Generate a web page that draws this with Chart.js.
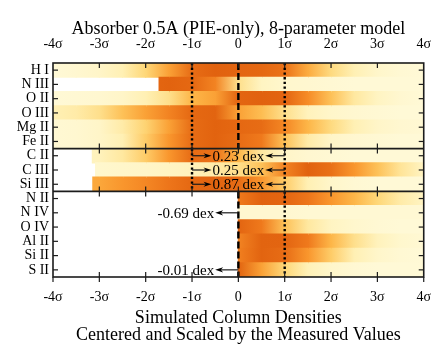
<!DOCTYPE html>
<html>
<head>
<meta charset="utf-8">
<script src="https://cdn.jsdelivr.net/npm/chart.js@4.4.0/dist/chart.umd.min.js"></script>
<style>
  html, body { margin: 0; padding: 0; background: #fff; }
</style>
</head>
<body>
<canvas id="heat" width="443" height="354"></canvas>
<script>
// ions, top to bottom
const ions = ['H I', 'N III', 'O II', 'O III', 'Mg II', 'Fe II',
              'C II', 'C III', 'Si III',
              'N II', 'N IV', 'O IV', 'Al II', 'Si II', 'S II'];

// sample points along x (in sigma)
const sigmaGrid = [-4, -3.5, -3, -2.5, -2, -1.5, -1, -0.5, 0, 0.5, 1, 1.5, 2, 2.5, 3, 3.5, 4];

// where each row's simulated distribution begins (white to the left)
const bandStart = [-4, -1.71, -4, -4, -4, -4, -3.15, -3.08, -3.14, 0, 0, 0, 0, 0, 0];

// relative density per row (0 = pale, 1 = darkest)
const densHI   = [0.03, 0.05, 0.08, 0.15, 0.30, 0.55, 0.85, 0.95, 0.90, 0.88, 0.80, 0.50, 0.28, 0.15, 0.07, 0.04, 0.03];
const densNIII = [null, null, null, null, 0.88, 0.93, 0.88, 0.70, 0.25, 0.10, 0.06, 0.05, 0.04, 0.03, 0.03, 0.03, 0.03];
const densOII  = [0.03, 0.04, 0.05, 0.08, 0.15, 0.25, 0.45, 0.55, 0.90, 0.95, 0.90, 0.65, 0.40, 0.20, 0.10, 0.05, 0.03];
const densOIII = [0.15, 0.18, 0.25, 0.40, 0.55, 0.70, 0.88, 0.92, 0.55, 0.42, 0.25, 0.12, 0.07, 0.05, 0.04, 0.03, 0.03];
const densMgII = [0.04, 0.05, 0.08, 0.18, 0.32, 0.55, 0.85, 0.93, 0.88, 0.85, 0.68, 0.45, 0.28, 0.15, 0.08, 0.05, 0.04];
const densFeII = [0.04, 0.05, 0.08, 0.15, 0.35, 0.60, 0.85, 0.93, 0.85, 0.75, 0.40, 0.18, 0.08, 0.05, 0.04, 0.03, 0.03];
const densCII  = [null, 0.10, 0.12, 0.20, 0.35, 0.60, 0.85, 0.80, 0.45, 0.20, 0.08, 0.05, 0.04, 0.03, 0.03, 0.03, 0.03];
const densCIII = [null, 0.06, 0.06, 0.07, 0.08, 0.10, 0.12, 0.18, 0.25, 0.40, 0.70, 0.95, 0.82, 0.60, 0.40, 0.22, 0.10];
const densSiIII= [null, 0.50, 0.52, 0.60, 0.68, 0.78, 0.88, 0.92, 0.85, 0.60, 0.35, 0.15, 0.07, 0.04, 0.03, 0.03, 0.03];
const densNII  = [null, null, null, null, null, null, null, null, 0.75, 0.95, 0.90, 0.78, 0.60, 0.45, 0.30, 0.18, 0.10];
const densNIV  = [null, null, null, null, null, null, null, null, 0.05, 0.05, 0.05, 0.04, 0.04, 0.04, 0.04, 0.04, 0.04];
const densOIV  = [null, null, null, null, null, null, null, null, 0.90, 0.75, 0.40, 0.20, 0.10, 0.06, 0.04, 0.03, 0.03];
const densAlII = [null, null, null, null, null, null, null, null, 0.70, 0.92, 0.90, 0.75, 0.45, 0.25, 0.12, 0.06, 0.04];
const densSiII = [null, null, null, null, null, null, null, null, 0.72, 0.92, 0.85, 0.60, 0.35, 0.15, 0.07, 0.04, 0.03];
const densSII  = [null, null, null, null, null, null, null, null, 0.92, 0.55, 0.30, 0.14, 0.07, 0.04, 0.03, 0.03, 0.03];
const density = [densHI, densNIII, densOII, densOIII, densMgII, densFeII,
                 densCII, densCIII, densSiIII,
                 densNII, densNIV, densOIV, densAlII, densSiII, densSII];

// panels (first row, last row) and their reference lines
const panels = [[0, 5], [6, 8], [9, 14]];
const dashedAt = [[0], [], [0]];
const dottedAt = [[-1, 1], [-1, 1], [1]];

// annotations
const rangeRows = [6, 7, 8];
const rangeLabels = ['0.23 dex', '0.25 dex', '0.87 dex'];
const rangeEnds = [-1, 1];
const offsetRows = [10, 14];
const offsetLabels = ['-0.69 dex', '-0.01 dex'];
const offsetArrow = [0, -0.5];

const serif = "'Liberation Serif', 'Times New Roman', serif";

// pale cream -> yellow -> orange
const cmapStops = [
  [0.00, [255, 251, 222]],
  [0.15, [255, 240, 180]],
  [0.30, [254, 215, 120]],
  [0.45, [253, 182, 72]],
  [0.60, [249, 150, 45]],
  [0.75, [239, 121, 28]],
  [0.90, [227, 101, 17]],
  [1.00, [222, 94, 12]]
];
function cmap(v) {
  if (v == null) v = 0;
  for (let i = 1; i < cmapStops.length; i++) {
    if (v <= cmapStops[i][0]) {
      const [a, ca] = cmapStops[i - 1], [b, cb] = cmapStops[i];
      const t = (v - a) / (b - a);
      return 'rgb(' + ca.map((c, j) => Math.round(c + (cb[j] - c) * t)).join(',') + ')';
    }
  }
  return 'rgb(' + cmapStops[cmapStops.length - 1][1].join(',') + ')';
}

// each bar segment is shaded from the value at its left edge to the one at its right
function segFill(ctx, k) {
  if (ctx.type !== 'data') return 'transparent';
  const row = density[ctx.dataIndex];
  const c0 = cmap(row[k]), c1 = cmap(row[k + 1]);
  const xs = ctx.chart.scales.x;
  if (!xs) return c0;
  const p0 = xs.getPixelForValue(sigmaGrid[k]), p1 = xs.getPixelForValue(sigmaGrid[k + 1]);
  if (!isFinite(p0) || !isFinite(p1) || p0 === p1) return c0;
  const g = ctx.chart.ctx.createLinearGradient(p0, 0, p1, 0);
  g.addColorStop(0, c0);
  g.addColorStop(1, c1);
  return g;
}

const datasets = [];
for (let k = 0; k < sigmaGrid.length - 1; k++) {
  datasets.push({
    data: ions.map((_, r) => sigmaGrid[k + 1] > bandStart[r]
      ? [Math.max(sigmaGrid[k], bandStart[r]), sigmaGrid[k + 1]] : null),
    backgroundColor: ctx => segFill(ctx, k),
    borderWidth: 0,
    inflateAmount: 0.6,
    barPercentage: 1,
    categoryPercentage: 1,
    grouped: false
  });
}

function arrow(ctx, x0, y, x1) {
  const dir = Math.sign(x1 - x0), head = 8, hw = 2.6;
  ctx.beginPath();
  ctx.moveTo(x0, y);
  ctx.lineTo(x1 - dir * head * 0.6, y);
  ctx.stroke();
  ctx.beginPath();
  ctx.moveTo(x1, y);
  ctx.lineTo(x1 - dir * head, y - hw);
  ctx.lineTo(x1 - dir * head * 0.7, y);
  ctx.lineTo(x1 - dir * head, y + hw);
  ctx.closePath();
  ctx.fill();
}

const framePlugin = {
  id: 'frame',
  afterDatasetsDraw(chart) {
    const {ctx, chartArea: a, scales: {x, y}} = chart;
    const rowH = Math.abs(y.getPixelForValue(1) - y.getPixelForValue(0));
    const pTop = p => y.getPixelForValue(panels[p][0]) - rowH / 2;
    const pBot = p => y.getPixelForValue(panels[p][1]) + rowH / 2;
    const seg = (x0, y0, x1, y1) => { ctx.beginPath(); ctx.moveTo(x0, y0); ctx.lineTo(x1, y1); ctx.stroke(); };
    ctx.save();
    ctx.strokeStyle = '#000';
    ctx.fillStyle = '#000';

    // reference lines
    panels.forEach((pr, p) => {
      const t = pTop(p), b = pBot(p);
      ctx.lineWidth = 2.4;
      ctx.setLineDash([7, 3]);
      dashedAt[p].forEach(v => { const px = x.getPixelForValue(v); seg(px, t, px, b); });
      ctx.setLineDash([2.3, 2.4]);
      dottedAt[p].forEach(v => { const px = x.getPixelForValue(v); seg(px, t, px, b); });
    });
    ctx.setLineDash([]);

    // frame and panel separators
    ctx.strokeStyle = '#1c1c1c';
    ctx.lineWidth = 1.6;
    ctx.strokeRect(a.left, a.top, a.right - a.left, a.bottom - a.top);
    const seps = [pBot(0), pBot(1)];
    seps.forEach(sy => seg(a.left, sy, a.right, sy));

    // ticks
    ctx.lineWidth = 1.2;
    const tl = 5;
    const inner = x.ticks.map(t => t.value).filter(v => v > x.min && v < x.max);
    inner.forEach(v => {
      const px = x.getPixelForValue(v);
      seg(px, a.top, px, a.top + tl);
      seps.forEach(sy => seg(px, sy - tl, px, sy + tl));
      seg(px, a.bottom - tl, px, a.bottom + tl);
    });
    [x.min, x.max].forEach(v => { const px = x.getPixelForValue(v); seg(px, a.bottom, px, a.bottom + tl); });
    ions.forEach((_, r) => {
      const py = y.getPixelForValue(r);
      seg(a.left, py, a.left + tl, py);
      seg(a.right - tl, py, a.right, py);
    });

    // annotations
    ctx.font = '15px ' + serif;
    ctx.textBaseline = 'middle';
    ctx.lineWidth = 1.2;
    rangeRows.forEach((r, i) => {
      const py = y.getPixelForValue(r);
      const xl = x.getPixelForValue(rangeEnds[0]), xr = x.getPixelForValue(rangeEnds[1]);
      const cx = (xl + xr) / 2;
      const w = ctx.measureText(rangeLabels[i]).width;
      ctx.textAlign = 'center';
      ctx.fillText(rangeLabels[i], cx, py + 1);
      arrow(ctx, xl, py, cx - w / 2 - 1);
      arrow(ctx, xr, py, cx + w / 2 + 1);
    });
    offsetRows.forEach((r, i) => {
      const py = y.getPixelForValue(r);
      const x0 = x.getPixelForValue(offsetArrow[0]), x1 = x.getPixelForValue(offsetArrow[1]);
      arrow(ctx, x0, py, x1);
      ctx.textAlign = 'right';
      ctx.fillText(offsetLabels[i], x1 - 1, py + 1);
    });
    ctx.restore();
  }
};

const sigmaLabel = v => v === 0 ? '0' : v + 'σ';
const xAxisBase = {
  type: 'linear', min: -4, max: 4,
  grid: { display: false, drawTicks: false },
  border: { display: false },
  ticks: { stepSize: 1, callback: sigmaLabel, color: '#000', font: { family: serif, size: 14 } }
};

new Chart(document.getElementById('heat'), {
  type: 'bar',
  data: { labels: ions, datasets: datasets },
  options: {
    indexAxis: 'y',
    responsive: false,
    animation: false,
    devicePixelRatio: 1,
    events: [],
    layout: { padding: { left: 0, right: 18, top: 0, bottom: 0 } },
    plugins: { legend: { display: false }, tooltip: { enabled: false } },
    scales: {
      x: Object.assign({}, xAxisBase, {
        position: 'bottom',
        ticks: Object.assign({}, xAxisBase.ticks, { padding: 12 }),
        title: {
          display: true,
          text: ['Simulated Column Densities', 'Centered and Scaled by the Measured Values'],
          color: '#000',
          font: { family: serif, size: 18, lineHeight: 0.95 },
          padding: { top: 0, bottom: 10 }
        },
        afterFit: s => { s.height = 77; }
      }),
      x2: Object.assign({}, xAxisBase, {
        position: 'top',
        ticks: Object.assign({}, xAxisBase.ticks, { padding: 10 }),
        title: {
          display: true,
          text: 'Absorber 0.5A (PIE-only), 8-parameter model',
          color: '#000',
          font: { family: serif, size: 18, lineHeight: 1.0 },
          padding: { top: 20, bottom: 0 }
        },
        afterFit: s => { s.height = 63; }
      }),
      y: {
        type: 'category',
        offset: true,
        grid: { display: false, drawTicks: false },
        border: { display: false },
        ticks: { autoSkip: false, padding: 4, color: '#000', font: { family: serif, size: 14, lineHeight: 1 } },
        afterFit: s => { s.width = 53; }
      }
    }
  },
  plugins: [framePlugin]
});
</script>
</body>
</html>
